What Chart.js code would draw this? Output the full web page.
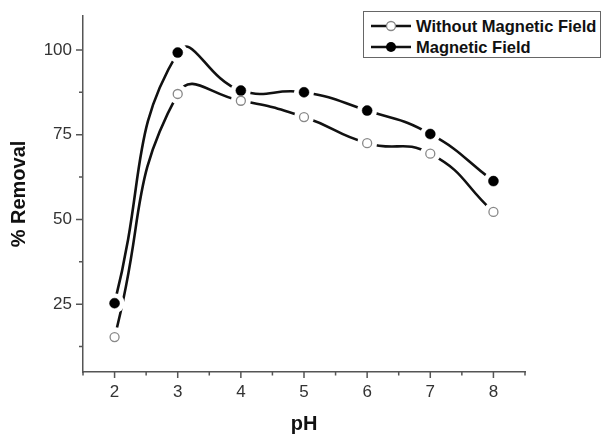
<!DOCTYPE html>
<html>
<head>
<meta charset="utf-8">
<script src="https://cdn.jsdelivr.net/npm/chart.js@4/dist/chart.umd.min.js"></script>
<style>
  html, body { margin: 0; padding: 0; background: #fff; }
  #wrap { position: relative; width: 602px; height: 434px; }
  canvas { position: absolute; left: 0; top: 0; }
  #legend {
    position: absolute; left: 363px; top: 11px; width: 236px; height: 45px;
    border: 1.5px solid #666; background: #fff;
    font-family: "Liberation Sans", Arial, sans-serif; font-weight: bold; font-size: 16.5px; color: #111;
  }
  .row { position: absolute; left: 0; height: 20px; display: flex; align-items: center; white-space: nowrap; }
  .row svg { margin-left: 6px; margin-right: 4px; }
</style>
</head>
<body>
<div id="wrap">
  <canvas id="c" width="602" height="434"></canvas>
  <div id="legend">
    <div class="row" style="top:4px">
      <svg width="42" height="14"><line x1="1" y1="7" x2="41" y2="7" stroke="#111" stroke-width="2.5"/><circle cx="21" cy="7" r="4.5" fill="#fff" stroke="#888" stroke-width="1.3"/></svg>
      <span>Without Magnetic Field</span>
    </div>
    <div class="row" style="top:25px">
      <svg width="42" height="14"><line x1="1" y1="7" x2="41" y2="7" stroke="#111" stroke-width="2.5"/><circle cx="21" cy="7" r="5" fill="#000"/></svg>
      <span>Magnetic Field</span>
    </div>
  </div>
</div>
<script>
// ---- data ----
const pH = [2, 3, 4, 5, 6, 7, 8];
const withoutMF = [15.3, 87, 85, 80.2, 72.5, 69.4, 52.2];
const withMF = [25.3, 99.2, 88, 87.5, 82.1, 75.2, 61.3];
const seriesNames = ["Without Magnetic Field", "Magnetic Field"];
const xMajorTicks = [2, 3, 4, 5, 6, 7, 8];
const xMinorTicks = [1.5, 2.5, 3.5, 4.5, 5.5, 6.5, 7.5, 8.5];
const yMajorTicks = [25, 50, 75, 100];
const yMinorTicks = [12.5, 37.5, 62.5, 87.5];

const pts = arr => pH.map((x, i) => ({ x: x, y: arr[i] }));

const tickPlugin = {
  id: 'tickMarks',
  afterDraw(chart) {
    const ctx = chart.ctx;
    const xs = chart.scales.x, ys = chart.scales.y;
    const axY = chart.chartArea.bottom, axX = chart.chartArea.left;
    ctx.save();
    ctx.strokeStyle = '#555';
    ctx.lineWidth = 1.5;
    ctx.beginPath();
    xMajorTicks.forEach(v => { const p = xs.getPixelForValue(v); ctx.moveTo(p, axY); ctx.lineTo(p, axY + 6); });
    xMinorTicks.forEach(v => { const p = xs.getPixelForValue(v); ctx.moveTo(p, axY); ctx.lineTo(p, axY + 3.5); });
    yMajorTicks.forEach(v => { const p = ys.getPixelForValue(v); ctx.moveTo(axX, p); ctx.lineTo(axX - 7, p); });
    yMinorTicks.forEach(v => { const p = ys.getPixelForValue(v); ctx.moveTo(axX, p); ctx.lineTo(axX - 4, p); });
    ctx.stroke();
    ctx.restore();
  }
};

const halo = (arr) => ({
  order: 1,
  data: pts(arr), showLine: false, pointRadius: 10, pointHoverRadius: 10,
  pointBackgroundColor: '#fff', pointBorderWidth: 0, pointBorderColor: '#fff'
});
const line = (arr) => ({
  order: 2,
  data: pts(arr), showLine: true, borderColor: '#111', borderWidth: 2.6, tension: 0.5,
  pointRadius: 0, fill: false
});

new Chart(document.getElementById('c'), {
  type: 'scatter',
  data: {
    datasets: [
      { label: seriesNames[0], order: 0, data: pts(withoutMF), showLine: false, pointRadius: 4.5,
        pointBackgroundColor: '#fff', pointBorderColor: '#888', pointBorderWidth: 1.3 },
      { label: seriesNames[1], order: 0, data: pts(withMF), showLine: false, pointRadius: 5,
        pointBackgroundColor: '#000', pointBorderColor: '#000', pointBorderWidth: 0.5 },
      halo(withoutMF),
      halo(withMF),
      line(withoutMF),
      line(withMF)
    ]
  },
  options: {
    responsive: false,
    animation: false,
    events: [],
    layout: { padding: { top: 16, right: 77, left: 0, bottom: 0 } },
    plugins: { legend: { display: false }, tooltip: { enabled: false } },
    scales: {
      x: {
        type: 'linear', min: 1.5, max: 8.5,
        afterBuildTicks: s => { s.ticks = xMajorTicks.map(v => ({ value: v })); },
        afterFit: s => { s.height = 62; },
        grid: { display: true, drawOnChartArea: false, drawTicks: true, tickLength: 6, color: 'rgba(0,0,0,0)' },
        border: { display: true, color: '#555', width: 1.5 },
        ticks: { color: '#333', padding: 4, font: { family: 'Liberation Sans', size: 17 } },
        title: { display: true, text: 'pH', color: '#111', padding: { top: 0, bottom: 0 },
          font: { family: 'Liberation Sans', size: 20, weight: 'bold', lineHeight: 1 } }
      },
      y: {
        type: 'linear', min: 5, max: 110,
        afterBuildTicks: s => { s.ticks = yMajorTicks.map(v => ({ value: v })); },
        afterFit: s => { s.width = 83; },
        grid: { display: true, drawOnChartArea: false, drawTicks: true, tickLength: 7, color: 'rgba(0,0,0,0)' },
        border: { display: true, color: '#555', width: 1.5 },
        ticks: { color: '#333', padding: 4, font: { family: 'Liberation Sans', size: 17 } },
        title: { display: true, text: '% Removal', color: '#111', padding: { top: 9, bottom: 0 },
          font: { family: 'Liberation Sans', size: 20, weight: 'bold', lineHeight: 1 } }
      }
    }
  },
  plugins: [tickPlugin]
});
</script>
</body>
</html>
